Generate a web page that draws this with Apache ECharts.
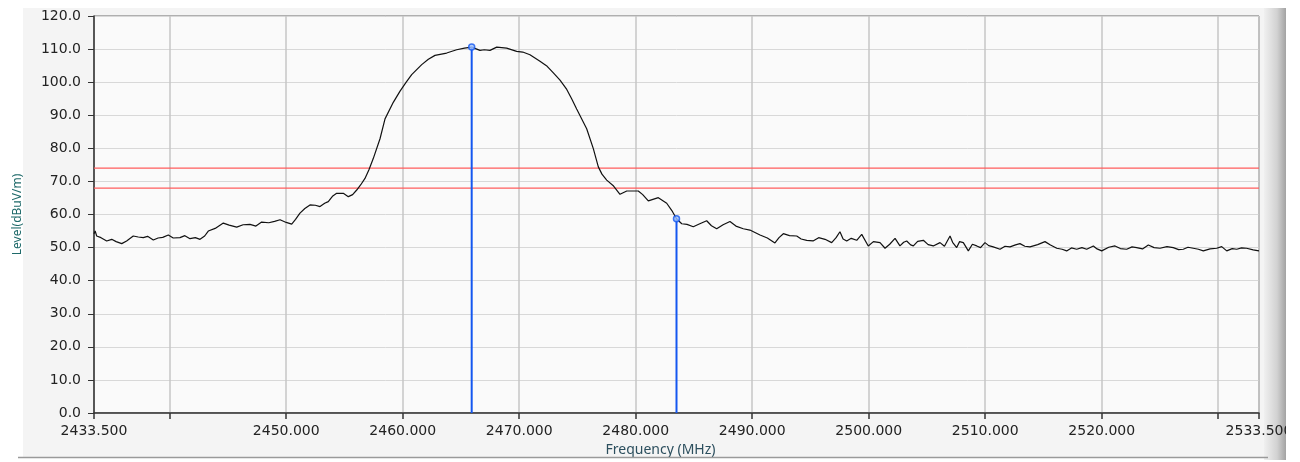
<!DOCTYPE html>
<html>
<head>
<meta charset="utf-8">
<script src="https://cdn.jsdelivr.net/npm/echarts@6/dist/echarts.min.js"></script>
<style>
html,body{margin:0;padding:0;background:#ffffff;}
#chart{width:1300px;height:462px;}
</style>
</head>
<body>
<div id="chart"></div>
<script>
// ---- data ----
const freqMHz = [
2433.5,2433.6,2433.73,2434.1,2434.59,2435.02,2435.4,2435.88,2436.3,2436.87,
2437.3,2437.73,2438.1,2438.59,2439.0,2439.4,2439.88,2440.3,2440.88,2441.3,
2441.74,2442.2,2442.6,2443.0,2443.31,2443.9,2444.6,2445.1,2445.75,2446.3,
2446.89,2447.4,2447.89,2448.5,2449.0,2449.47,2450.0,2450.47,2450.8,2451.18,
2451.6,2452.04,2452.5,2452.9,2453.3,2453.61,2454.0,2454.33,2454.9,2455.33,
2455.7,2456.05,2456.4,2456.76,2457.1,2457.47,2458.05,2458.48,2459.19,2459.77,
2460.3,2460.77,2461.63,2462.2,2462.77,2463.77,2464.63,2465.3,2465.92,2466.63,
2467.0,2467.49,2468.07,2468.92,2469.78,2470.3,2470.92,2471.78,2472.4,2472.93,
2473.5,2474.08,2474.5,2474.93,2475.79,2476.36,2476.79,2477.1,2477.51,2478.1,
2478.65,2479.23,2480.22,2480.6,2481.08,2481.94,2482.66,2483.1,2483.5,2483.95,
2484.4,2484.94,2485.5,2486.09,2486.5,2486.95,2487.5,2488.09,2488.6,2489.23,
2489.8,2490.67,2491.3,2491.95,2492.3,2492.67,2493.2,2493.82,2494.2,2494.68,
2495.22,2495.7,2496.25,2496.82,2497.2,2497.53,2497.8,2498.11,2498.5,2498.97,
2499.4,2499.96,2500.4,2500.97,2501.4,2501.8,2502.26,2502.68,2503.0,2503.26,
2503.6,2503.83,2504.2,2504.69,2505.1,2505.54,2506.12,2506.5,2506.98,2507.2,
2507.55,2507.8,2508.12,2508.55,2508.9,2509.27,2509.6,2509.98,2510.3,2510.69,
2511.27,2511.7,2512.13,2512.6,2512.98,2513.4,2513.84,2514.5,2515.13,2515.6,
2516.14,2516.6,2516.99,2517.4,2517.85,2518.3,2518.71,2519.28,2519.6,2520.0,
2520.6,2521.14,2521.6,2522.14,2522.6,2523.0,2523.5,2524.0,2524.5,2525.0,
2525.6,2526.14,2526.6,2527.0,2527.4,2527.86,2528.3,2528.72,2529.3,2529.87,
2530.3,2530.73,2531.2,2531.59,2532.0,2532.44,2533.0,2533.5
];
const levelDbuv = [
54.2,55.0,53.5,53.0,52.0,52.5,51.8,51.2,52.0,53.5,
53.2,53.0,53.4,52.3,52.9,53.1,53.8,52.9,53.0,53.6,
52.7,53.0,52.5,53.5,55.0,55.8,57.4,56.8,56.2,56.9,
57.0,56.5,57.7,57.5,57.9,58.4,57.6,57.1,58.5,60.4,
61.8,62.9,62.8,62.4,63.4,63.9,65.6,66.4,66.4,65.4,
66.0,67.4,69.0,70.9,73.5,76.9,82.9,88.9,93.9,97.3,
100.0,102.3,105.3,106.9,108.1,108.8,109.8,110.3,110.6,109.6,
109.8,109.6,110.6,110.3,109.3,109.1,108.3,106.3,104.8,102.8,
100.6,97.8,95.0,91.9,85.9,79.9,74.4,72.2,70.4,68.6,
66.1,67.1,67.1,66.0,64.1,65.1,63.4,61.2,58.7,57.2,
57.0,56.3,57.2,58.1,56.6,55.7,56.9,57.9,56.5,55.7,
55.3,53.8,52.9,51.4,53.0,54.2,53.6,53.5,52.6,52.2,
52.0,53.0,52.5,51.5,53.0,54.8,52.6,52.0,52.8,52.2,
54.0,50.5,51.8,51.5,49.8,51.0,52.8,50.5,51.6,52.0,
50.8,50.5,51.9,52.2,50.9,50.5,51.5,50.4,53.5,51.6,
50.0,51.8,51.5,49.0,51.0,50.5,50.0,51.5,50.6,50.2,
49.5,50.4,50.2,50.8,51.2,50.4,50.2,50.9,51.8,50.8,
49.8,49.5,49.0,49.9,49.5,50.0,49.5,50.5,49.6,49.0,
50.1,50.5,49.7,49.5,50.2,50.0,49.6,50.8,50.0,49.8,
50.3,50.0,49.4,49.5,50.1,49.8,49.5,49.0,49.6,49.8,
50.3,49.0,49.7,49.5,49.9,49.8,49.3,49.0
];
const limitLevels = [74, 68];
const markerFreq = [2465.92, 2483.5];
const markerLevel = [110.6, 58.7];
const xTickValues = [2433.5,2440,2450,2460,2470,2480,2490,2500,2510,2520,2530,2533.5];
const xLabelValues = [2433.5,2450,2460,2470,2480,2490,2500,2510,2520,2533.5];
const xMin = 2433.5, xMax = 2533.5;
const yMin = 0, yMax = 120, yStep = 10;

// ---- build chart ----
const traceData = freqMHz.map((f, i) => [f, levelDbuv[i]]);
const limitSeries = limitLevels.map(v => ({
  type: 'line', data: [[xMin, v], [xMax, v]], symbol: 'none', silent: true, z: 2,
  lineStyle: { color: '#ff5c5c', width: 1.2 }
}));
const markerSeries = markerFreq.map((f, i) => ({
  type: 'line', data: [[f, yMin], [f, markerLevel[i]]], symbol: 'none',
  lineStyle: { color: '#1457f0', width: 2 }, z: 4, silent: true
}));

const chart = echarts.init(document.getElementById('chart'), null, { renderer: 'canvas' });
chart.setOption({
  animation: false,
  backgroundColor: '#ffffff',
  graphic: [
    { type: 'rect', z: -10, shape: { x: 23, y: 8, width: 1267, height: 449 }, style: { fill: '#f4f4f4' } },
    { type: 'rect', z: -5, shape: { x: 1264, y: 8, width: 26, height: 452 },
      style: { fill: new echarts.graphic.LinearGradient(0, 0, 1, 0, [
        { offset: 0, color: '#f0f0f0' }, { offset: 0.5, color: '#d2d2d2' }, { offset: 1, color: '#8e8e8e' }]) } },
    { type: 'line', z: 50, shape: { x1: 18, y1: 457.5, x2: 1268, y2: 457.5 }, style: { stroke: '#9a9a9a', lineWidth: 1.5 } },
    { type: 'rect', z: 100, shape: { x: 1286, y: 0, width: 14, height: 462 }, style: { fill: '#ffffff' } }
  ],
  grid: { left: 94, right: 41, top: 16, bottom: 45, show: true, backgroundColor: '#fafafa', borderColor: '#6a6a6a', borderWidth: 1 },
  xAxis: {
    type: 'value', min: xMin, max: xMax,
    name: 'Frequency (MHz)', nameLocation: 'middle', nameGap: 30,
    nameTextStyle: { color: '#2c4f5e', fontSize: 14, fontFamily: 'Noto Sans', padding: [0, 32, 0, 0] },
    axisLine: { show: true, lineStyle: { color: '#333', width: 1.5 } },
    axisTick: { show: true, length: 6, customValues: xTickValues, lineStyle: { color: '#333', width: 1.5 } },
    axisLabel: { customValues: xLabelValues, margin: 11, color: '#222', fontSize: 14, fontFamily: 'DejaVu Sans',
      formatter: v => Number(v).toFixed(3) },
    splitLine: { show: true, lineStyle: { color: '#c6c6c6', width: 1.5 } }
  },
  yAxis: {
    type: 'value', min: yMin, max: yMax, interval: yStep,
    name: 'Level(dBuV/m)', nameLocation: 'middle', nameGap: 70, nameRotate: 90,
    nameTextStyle: { color: '#1f6a6a', fontSize: 12, fontFamily: 'Noto Sans' },
    axisLine: { show: true, lineStyle: { color: '#333', width: 1.5 } },
    axisTick: { show: true, length: 6, lineStyle: { color: '#333', width: 1 } },
    axisLabel: { margin: 13, color: '#222', fontSize: 14, fontFamily: 'DejaVu Sans', formatter: v => Number(v).toFixed(1) },
    splitLine: { show: true, lineStyle: { color: '#d8d8d8', width: 1 } }
  },
  series: [
    ...limitSeries,
    {
      type: 'line', data: traceData, symbol: 'none', z: 3, silent: true,
      lineStyle: { color: '#111', width: 1.2 }
    },
    ...markerSeries,
    {
      type: 'scatter', data: markerFreq.map((f, i) => [f, markerLevel[i]]), symbol: 'circle', symbolSize: 6, z: 5,
      itemStyle: { color: '#9cc0ff', borderColor: '#1457f0', borderWidth: 1.5 }, silent: true
    }
  ]
});
</script>
</body>
</html>
